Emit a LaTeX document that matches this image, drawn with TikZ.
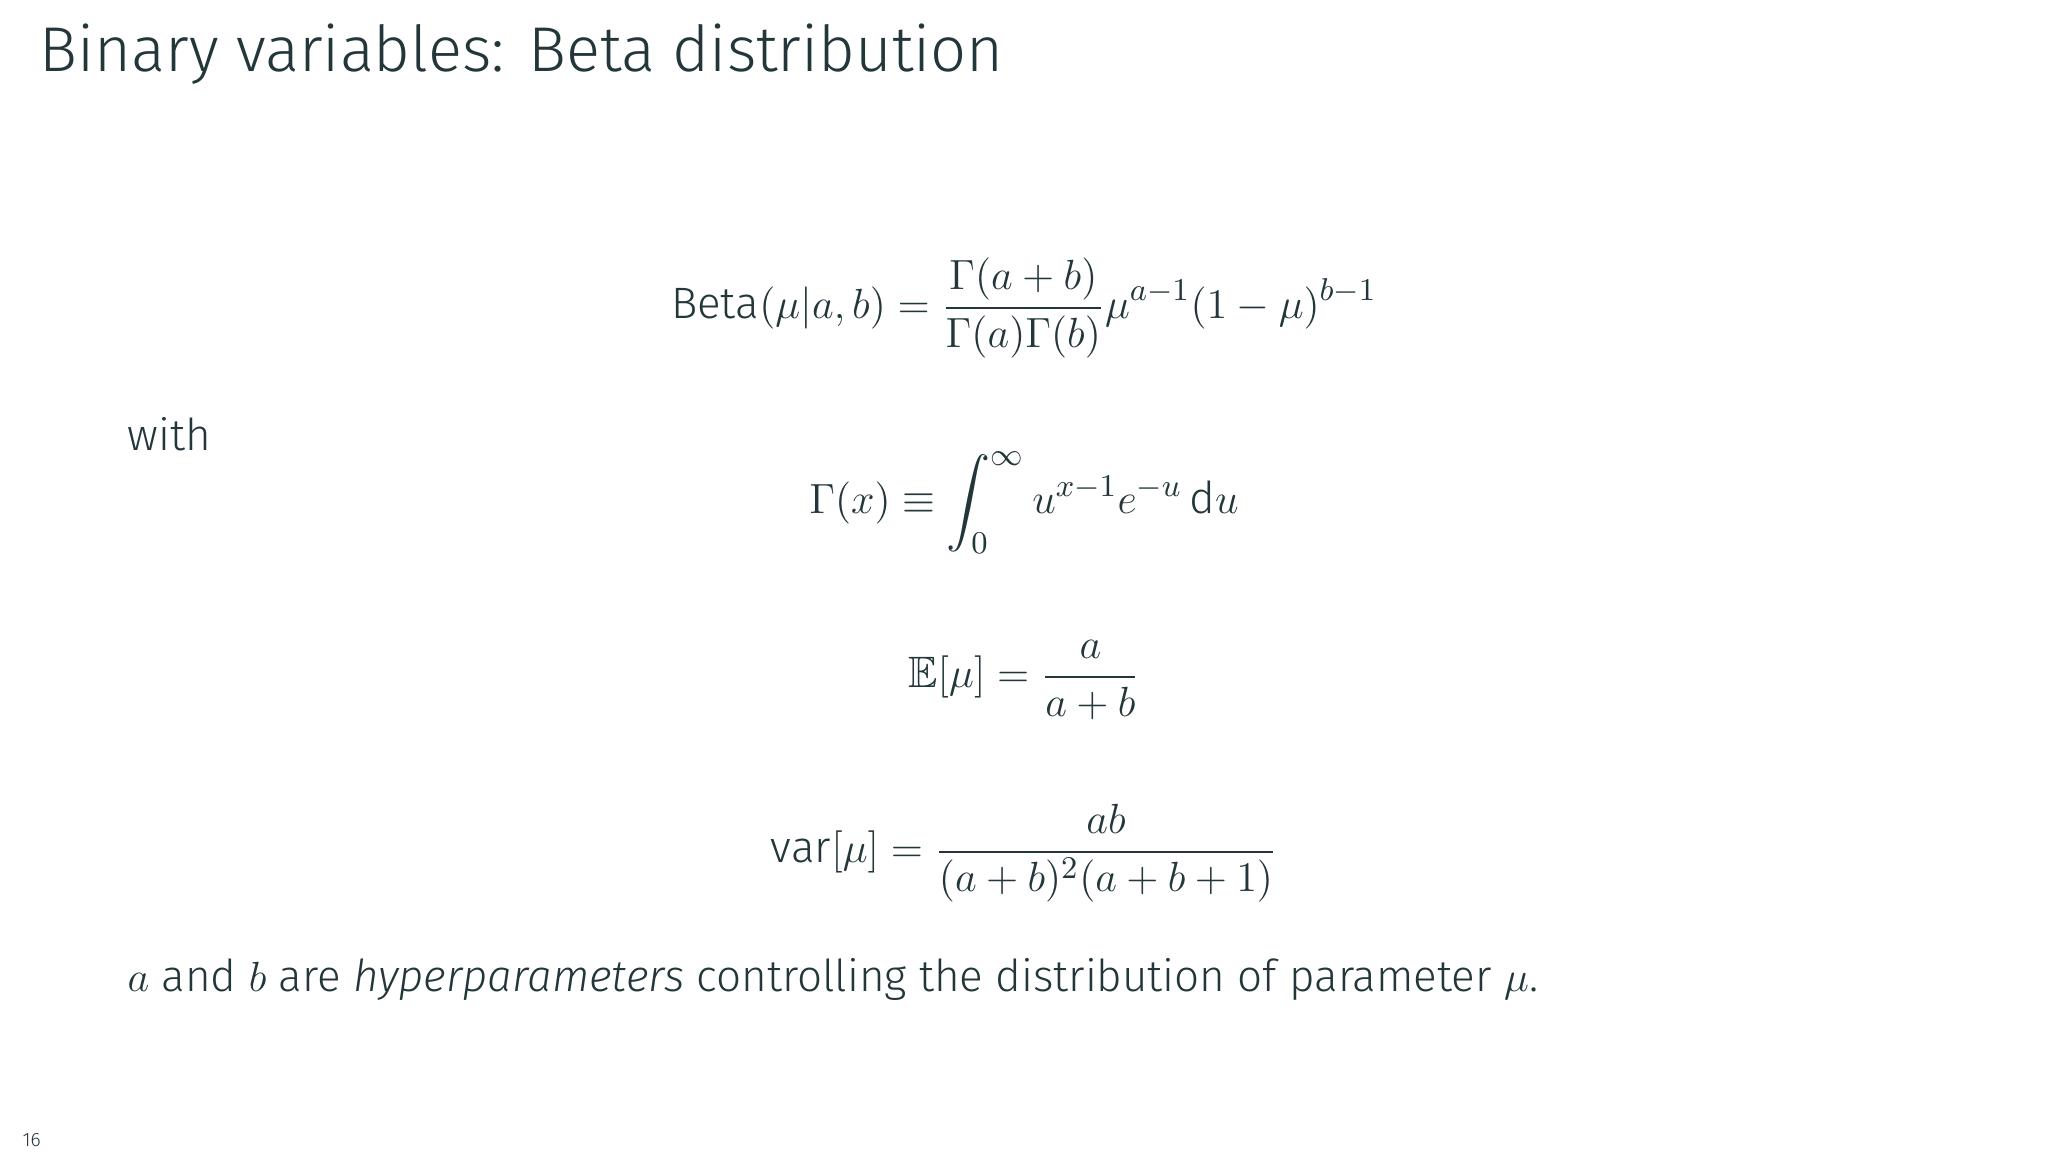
\documentclass[tikz,border=0pt]{standalone}
\usepackage{amsmath,amssymb}
\usepackage{fontspec}
\setmainfont{Fira Sans}[UprightFont={* Light},ItalicFont={* Light Italic}]
\definecolor{fg}{HTML}{23373B}
\begin{document}
\begin{tikzpicture}[x=0.01cm,y=-0.01cm,every node/.style={text=fg,inner sep=0pt},
  eq/.style={font=\fontsize{12.5}{15}\selectfont},
  body/.style={font=\fontsize{12.5}{15}\selectfont,anchor=west}]
\useasboundingbox (0,0) rectangle (2048,1152);
\node[anchor=west,font=\fontsize{18}{22}\selectfont] (title) at (39,54) {Binary variables: Beta distribution};
\node[eq] (beta) at (1024,308) {$\displaystyle \mathrm{Beta}(\mu|a,b)=\frac{\Gamma(a+b)}{\Gamma(a)\Gamma(b)}\mu^{a-1}(1-\mu)^{b-1}$};
\node[body] (with) at (127,434) {with};
\node[eq] (gamma) at (1024,503) {$\displaystyle \Gamma(x)\equiv\int_0^\infty u^{x-1}e^{-u}\,\mathrm{d}u$};
\node[eq] (mean) at (1024,680) {$\displaystyle \mathbb{E}[\mu]=\frac{a}{a+b}$};
\node[eq] (var) at (1024,853) {$\displaystyle \mathrm{var}[\mu]=\frac{ab}{(a+b)^2(a+b+1)}$};
\node[body] (last) at (127,979) {$a$ and $b$ are \emph{hyperparameters} controlling the distribution of parameter $\mu$.};
\node[anchor=west,font=\fontsize{5.5}{7}\selectfont] (pg) at (22,1140) {16};
\end{tikzpicture}
\end{document}
